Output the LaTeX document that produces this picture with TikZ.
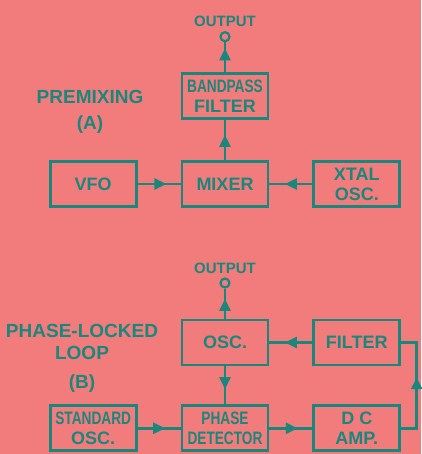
\documentclass[tikz,border=0pt]{standalone}
\usepackage{fontspec}
\setmainfont{Liberation Sans}
\newfontfamily\narrowfont{Liberation Sans}[FakeStretch=0.76]
\usetikzlibrary{arrows.meta,positioning,decorations.markings}
\definecolor{paperpink}{RGB}{242,123,123}
\definecolor{inkteal}{RGB}{24,136,126}
\tikzset{
  synblock/.style={draw=inkteal, line width=2.8pt, minimum width=86pt, minimum height=45pt, inner sep=1pt, align=center, text=inkteal, font=\fontsize{18}{20}\selectfont\bfseries},
  synnarrow/.style={synblock, font=\narrowfont\fontsize{18}{20}\selectfont\bfseries},
  synlabel/.style={align=center, text=inkteal, font=\fontsize{19}{21}\selectfont\bfseries},
  synout/.style={circle, draw=inkteal, line width=2.2pt, minimum size=9pt, inner sep=0pt},
  synouttext/.style={text=inkteal, inner sep=1pt, font=\fontsize{15}{17}\selectfont\bfseries},
  synarrow/.style={inkteal, line width=2.5pt, decoration={markings, mark=at position #1 with {\arrow{Triangle[length=12pt,width=11pt]}}}, postaction={decorate}},
  synarrow/.default=0.65
}
\begin{document}
\begin{tikzpicture}[x=1pt, y=1pt, node distance=40pt and 43pt]
\fill[paperpink] (0,0) rectangle (421,-454);
\useasboundingbox (0,0) rectangle (421,-454);
\node[synblock] (mixer) at (225,-184) {MIXER};
\node[synblock, above=of mixer] (bpf) {{\narrowfont BANDPASS}\\FILTER};
\node[synblock, left=of mixer] (vfo) {VFO};
\node[synblock, right=of mixer] (xtal) {XTAL\\OSC.};
\node[synout, above=30pt of bpf] (outa) {};
\node[synouttext, above=3pt of outa] (outatext) {OUTPUT};
\node[synlabel] (premix) at (90,-112) {PREMIXING\\[5pt](A)};
\node[synblock] (osc) at (225,-342.5) {OSC.};
\node[synblock, right=of osc] (filter) {FILTER};
\node[synnarrow, below=38pt of osc] (phdet) {PHASE\\DETECTOR};
\node[synblock, left=of phdet] (stdosc) {{\narrowfont STANDARD}\\OSC.};
\node[synblock, right=of phdet] (dcamp) {D C\\AMP.};
\node[synout, above=30pt of osc] (outb) {};
\node[synouttext, above=3pt of outb] (outbtext) {OUTPUT};
\node[synlabel] (pll) at (82,-358) {PHASE-LOCKED\\[1pt]LOOP\\[8pt](B)};
\draw[synarrow=0.67] (vfo) -- (mixer);
\draw[synarrow=0.64] (xtal) -- (mixer);
\draw[synarrow=0.63] (mixer) -- (bpf);
\draw[synarrow=0.8] (bpf) -- (outa);
\draw[synarrow=0.64] (filter) -- (osc);
\draw[synarrow=0.6] (osc) -- (phdet);
\draw[synarrow=0.66] (osc) -- (outb);
\draw[synarrow=0.64] (stdosc) -- (phdet);
\draw[synarrow=0.66] (phdet) -- (dcamp);
\draw[synarrow=0.57] (dcamp.east) -- ++(15.5,0) |- (filter.east);
\end{tikzpicture}
\end{document}
